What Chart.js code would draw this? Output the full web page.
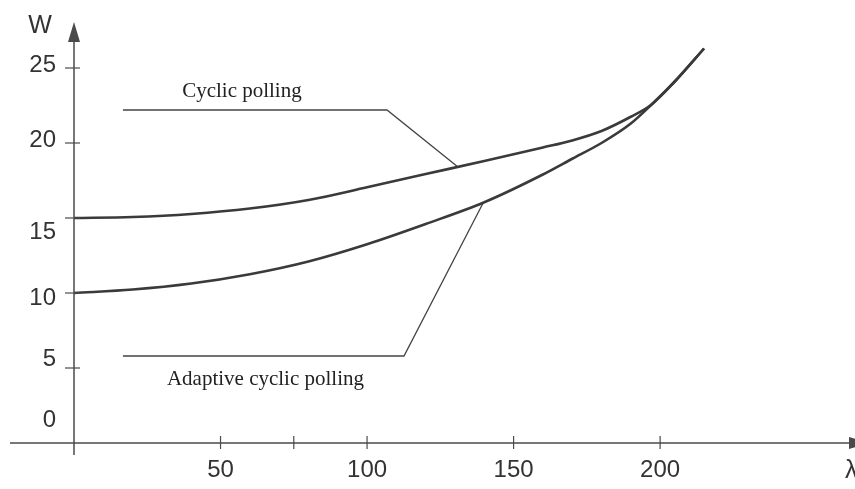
<!DOCTYPE html>
<html>
<head>
<meta charset="utf-8">
<script src="https://cdn.jsdelivr.net/npm/chart.js@4.4.1/dist/chart.umd.min.js"></script>
<style>
  html, body { margin: 0; padding: 0; background: #fff; }
</style>
</head>
<body>
<canvas id="myChart" width="855" height="489"></canvas>
<script>
// values: arrival rate (lambda) vs waiting time W
const cyclicLambda = [0, 20, 40, 60, 80, 100, 120, 140, 160, 170, 180, 190, 197, 205, 215];
const cyclicW      = [15, 15.07, 15.27, 15.63, 16.2, 17.05, 17.93, 18.8, 19.7, 20.17, 20.8, 21.75, 22.55, 24.1, 26.3];

const adaptiveLambda = [0, 20, 40, 60, 80, 100, 120, 140, 160, 170, 180, 190, 197, 205, 215];
const adaptiveW      = [10, 10.23, 10.63, 11.25, 12.1, 13.25, 14.6, 16.05, 17.9, 18.95, 20.0, 21.3, 22.55, 24.1, 26.3];

// leader lines from the labels to the curves
const cyclicLeaderLambda = [16.7, 106.8, 130.7];
const cyclicLeaderW      = [22.2, 22.2, 18.45];
const adaptiveLeaderLambda = [16.7, 112.6, 139.6];
const adaptiveLeaderW      = [5.8, 5.8, 16.0];

// axis ticks
const xTicks = [50, 75, 100, 150, 200];
const xTickLabels = ['50', '', '100', '150', '200'];
const yTicks = [0, 5, 10, 15, 20, 25];
const yTickLabels = ['0', '5', '10', '15', '20', '25'];
const yLabelNudge = [-23, -9, 5, 14, -3, -3]; // the original labels sit a bit off their ticks

const toPoints = (xs, ys) => xs.map((v, i) => ({ x: v, y: ys[i] }));

const ink = '#3a3a3a';

const axesArt = {
  id: 'axesArt',
  afterDatasetsDraw(chart) {
    const { ctx, scales: { x, y } } = chart;
    const x0 = x.getPixelForValue(0);
    const y0 = y.getPixelForValue(0);
    ctx.save();
    ctx.strokeStyle = '#4a4a4a';
    ctx.fillStyle = '#4a4a4a';
    ctx.lineWidth = 1.5;

    // y axis + arrow
    ctx.beginPath(); ctx.moveTo(x0, y0 + 12); ctx.lineTo(x0, 40); ctx.stroke();
    ctx.beginPath(); ctx.moveTo(x0, 22); ctx.lineTo(x0 - 6, 42); ctx.lineTo(x0 + 6, 42); ctx.closePath(); ctx.fill();
    // x axis + arrow
    ctx.beginPath(); ctx.moveTo(10, y0); ctx.lineTo(850, y0); ctx.stroke();
    ctx.beginPath(); ctx.moveTo(869, y0); ctx.lineTo(849, y0 - 6); ctx.lineTo(849, y0 + 6); ctx.closePath(); ctx.fill();

    // tick marks
    ctx.lineWidth = 1.2;
    xTicks.forEach(v => {
      const px = x.getPixelForValue(v);
      ctx.beginPath(); ctx.moveTo(px, y0 - 7); ctx.lineTo(px, y0 + 6); ctx.stroke();
    });
    yTicks.forEach(v => {
      if (v === 0) return;
      const py = y.getPixelForValue(v);
      ctx.beginPath(); ctx.moveTo(x0 - 9, py); ctx.lineTo(x0 + 6, py); ctx.stroke();
    });

    // tick labels
    ctx.fillStyle = '#333';
    ctx.font = '24px "Liberation Sans", Arial, sans-serif';
    ctx.textBaseline = 'middle';
    ctx.textAlign = 'center';
    xTicks.forEach((v, i) => {
      if (xTickLabels[i]) ctx.fillText(xTickLabels[i], x.getPixelForValue(v), y0 + 27);
    });
    ctx.textAlign = 'right';
    yTicks.forEach((v, i) => {
      ctx.fillText(yTickLabels[i], 56, y.getPixelForValue(v) + yLabelNudge[i]);
    });

    // axis names
    ctx.font = '25px "Liberation Sans", Arial, sans-serif';
    ctx.textAlign = 'center';
    ctx.fillText('W', 40, 26);
    ctx.textAlign = 'left';
    ctx.fillText('λ', 845, 471);

    // curve labels
    ctx.fillStyle = '#222';
    ctx.font = '21px "Liberation Serif", "Times New Roman", serif';
    ctx.textBaseline = 'alphabetic';
    ctx.textAlign = 'center';
    ctx.fillText('Cyclic polling', x.getPixelForValue(57.3), y.getPixelForValue(23.07));
    ctx.textAlign = 'left';
    ctx.fillText('Adaptive cyclic polling', x.getPixelForValue(31.7), y.getPixelForValue(3.87));
    ctx.restore();
  }
};

const curve = (label, pts) => ({
  label, data: pts, borderColor: ink, borderWidth: 2.6,
  pointRadius: 0, fill: false, cubicInterpolationMode: 'monotone'
});
const leader = (label, pts) => ({
  label, data: pts, borderColor: '#444', borderWidth: 1.3,
  pointRadius: 0, fill: false, tension: 0
});

new Chart(document.getElementById('myChart'), {
  type: 'line',
  data: {
    datasets: [
      curve('Cyclic polling', toPoints(cyclicLambda, cyclicW)),
      curve('Adaptive cyclic polling', toPoints(adaptiveLambda, adaptiveW)),
      leader('cyclic leader', toPoints(cyclicLeaderLambda, cyclicLeaderW)),
      leader('adaptive leader', toPoints(adaptiveLeaderLambda, adaptiveLeaderW))
    ]
  },
  options: {
    responsive: false,
    animation: false,
    layout: { padding: { left: 74, right: 0, top: 23, bottom: 46 } },
    plugins: { legend: { display: false }, tooltip: { enabled: false } },
    scales: {
      x: { type: 'linear', min: 0, max: 266.5, display: false },
      y: { type: 'linear', min: 0, max: 28, display: false }
    }
  },
  plugins: [axesArt]
});
</script>
</body>
</html>
